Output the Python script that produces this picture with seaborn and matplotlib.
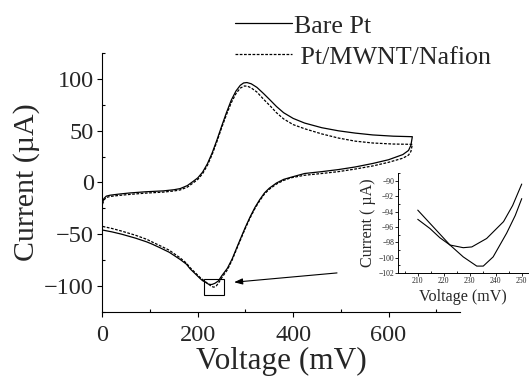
import numpy as np
import pandas as pd
import matplotlib
matplotlib.use("Agg")
import matplotlib.pyplot as plt
from matplotlib.patches import Rectangle
from matplotlib.ticker import MultipleLocator
import seaborn as sns

# Bare Pt, vorwaerts (0 -> 650 mV) und zurueck (650 -> 0 mV)
bare_fwd_v = [0, 3, 8, 16, 35, 58, 90, 128, 150, 163, 178, 190, 200, 210, 220, 230, 240, 250, 260,
              270, 280, 289, 296, 303, 312, 324, 338, 352, 365, 380, 400, 424, 460, 495, 530, 567,
              610, 650]
bare_fwd_i = [-19.8, -15.5, -13.2, -12.3, -11.2, -10.1, -9.0, -8.1, -7.0, -5.9, -3.0, 1.0, 4.5,
              10.0, 18.0, 28.5, 41.0, 54.5, 67.5, 79.5, 88.5, 94.0, 96.3, 96.7, 95.5, 92.0, 86.0,
              79.6, 73.5, 67.5, 62.0, 57.5, 53.0, 50.0, 47.8, 46.0, 44.8, 44.3]
bare_rev_v = [650, 647, 642, 630, 600, 567, 530, 495, 460, 424, 395, 380, 365, 350, 340, 330, 320,
              310, 300, 289, 280, 272, 262, 250, 243, 236, 230, 227, 222, 215, 210, 205, 195, 184,
              176, 163, 140, 120, 104, 93, 69, 40, 20, 0]
bare_rev_i = [44.3, 36.0, 31.0, 27.0, 22.0, 18.4, 15.0, 12.5, 10.5, 8.7, 5.0, 3.0, -0.5, -5.5,
              -10.0, -16.5, -24.0, -33.0, -43.0, -55.0, -65.0, -74.0, -83.0, -90.4, -95.3, -97.5,
              -98.6, -98.7, -98.3, -96.2, -95.0, -93.0, -88.5, -83.6, -79.0, -74.5, -67.5, -63.0,
              -59.6, -57.5, -53.8, -50.0, -47.8, -46.0]

# Pt/MWNT/Nafion
naf_fwd_v = [0, 3, 8, 16, 35, 58, 90, 128, 150, 163, 178, 190, 200, 210, 220, 230, 240, 250, 260,
             270, 280, 289, 298, 305, 312, 324, 338, 353, 365, 380, 400, 424, 460, 495, 530, 567,
             610, 650]
naf_fwd_i = [-21.0, -17.0, -14.5, -13.5, -12.5, -11.5, -10.3, -9.3, -8.2, -7.2, -4.5, -0.5, 3.0,
             8.5, 16.5, 27.0, 39.5, 53.0, 65.5, 77.0, 86.0, 91.3, 93.4, 93.0, 91.5, 87.5, 80.5,
             73.5, 67.5, 61.5, 56.0, 52.0, 47.0, 43.0, 40.0, 38.2, 37.2, 36.9]
naf_rev_v = [650, 647, 642, 630, 600, 567, 530, 495, 460, 424, 395, 380, 365, 350, 340, 330, 320,
             310, 300, 289, 280, 272, 262, 250, 244, 239, 234, 232, 227, 222, 216, 210, 205, 195,
             184, 176, 163, 140, 120, 104, 93, 69, 40, 20, 0]
naf_rev_i = [36.9, 30.0, 26.5, 23.5, 19.5, 16.0, 13.0, 10.5, 8.7, 7.0, 4.5, 2.0, -1.5, -6.5, -11.0,
             -17.5, -25.0, -34.0, -44.0, -56.0, -66.0, -75.0, -84.5, -92.3, -96.8, -99.9, -101.2,
             -101.1, -99.9, -98.3, -96.0, -93.8, -92.0, -87.5, -82.5, -78.0, -73.0, -65.5, -61.0,
             -57.5, -55.0, -51.0, -47.0, -44.5, -42.5]

# Ausschnitt (Inset) 210-250 mV
ins_bare_v = [210, 214.7, 218.5, 222.4, 227.5, 230.8, 236.5, 243, 246.5, 250]
ins_bare_i = [-95.0, -96.2, -97.4, -98.35, -98.7, -98.6, -97.5, -95.3, -93.2, -90.4]
ins_naf_v = [210, 216, 222.4, 227.5, 232.7, 235.2, 239, 244.2, 247.5, 250]
ins_naf_i = [-93.8, -96.0, -98.35, -99.9, -101.1, -101.1, -99.9, -96.8, -94.5, -92.3]

labels = ["Bare Pt", "Pt/MWNT/Nafion"]


def make_df(v1, i1, v2, i2, name):
    v = list(v1) + list(v2)
    i = list(i1) + list(i2)
    return pd.DataFrame({"V": v, "I": i, "elektrode": name, "n": np.arange(len(v))})


df = pd.concat([make_df(bare_fwd_v, bare_fwd_i, bare_rev_v, bare_rev_i, labels[0]),
                make_df(naf_fwd_v, naf_fwd_i, naf_rev_v, naf_rev_i, labels[1])],
               ignore_index=True)
df_ins = pd.concat([make_df(ins_bare_v, ins_bare_i, [], [], labels[0]),
                    make_df(ins_naf_v, ins_naf_i, [], [], labels[1])], ignore_index=True)

sns.set_style("ticks")
plt.rcParams["font.family"] = ["Liberation Serif", "DejaVu Serif"]

fig = plt.figure(figsize=(5.31, 3.79), dpi=100)
ax = fig.add_axes([0.193, 0.1776, 0.6733, 0.6818])

sns.lineplot(data=df, x="V", y="I", style="elektrode", sort=False, estimator=None,
             color="black", linewidth=0.9, dashes={labels[0]: "", labels[1]: (2.2, 1.2)}, ax=ax)

ax.set_xlim(0, 750)
ax.set_ylim(-125, 125)
ax.set_xticks([0, 200, 400, 600])
ax.set_yticks([-100, -50, 0, 50, 100])
ax.xaxis.set_minor_locator(MultipleLocator(100))
ax.yaxis.set_minor_locator(MultipleLocator(25))
ax.tick_params(which="major", direction="out", length=3.6, width=0.8, labelsize=17.5, color="black")
ax.tick_params(axis="x", which="major", pad=6)
ax.tick_params(axis="y", which="major", pad=2.5)
ax.tick_params(which="minor", direction="in", length=2.4, width=0.8, color="black")
for s in ["top", "right"]:
    ax.spines[s].set_visible(False)
for s in ["left", "bottom"]:
    ax.spines[s].set_linewidth(0.8)
    ax.spines[s].set_color("black")
ax.set_xlabel("Voltage (mV)", fontsize=22.5, labelpad=1)
ax.set_ylabel("Current (µA)", fontsize=21.5, labelpad=3)

# Kasten und Pfeil
ax.add_patch(Rectangle((213, -109), 42, 16, fill=False, edgecolor="black", linewidth=0.8))
ax.annotate("", xy=(276, -96.5), xytext=(492, -87.5),
            arrowprops=dict(arrowstyle="-|>,head_length=0.5,head_width=0.18", color="black",
                            linewidth=0.8, shrinkA=0, shrinkB=0))

h, l = ax.get_legend_handles_labels()
ax.legend(h, ["Bare Pt", " Pt/MWNT/Nafion"], loc="upper left", bbox_to_anchor=(0.443, 0.962),
          bbox_transform=fig.transFigure, frameon=False, fontsize=18.7, handlelength=2.2,
          handletextpad=0.08, labelspacing=0.3, borderpad=0, borderaxespad=0)

# Inset
axi = fig.add_axes([0.750, 0.2797, 0.2448, 0.263])
sns.lineplot(data=df_ins, x="V", y="I", units="elektrode", sort=False, estimator=None,
             color="black", linewidth=0.8, ax=axi)
axi.set_xlim(202.5, 252.5)
axi.set_ylim(-102, -89)
axi.set_xticks([210, 220, 230, 240, 250])
axi.set_yticks(np.arange(-102, -89, 2))
axi.xaxis.set_minor_locator(MultipleLocator(5))
axi.yaxis.set_minor_locator(MultipleLocator(1))
axi.tick_params(which="major", direction="out", length=2, width=0.6, labelsize=5.5, pad=1,
                color="black")
axi.tick_params(which="minor", direction="in", length=1.3, width=0.6, color="black")
for s in ["top", "right"]:
    axi.spines[s].set_visible(False)
for s in ["left", "bottom"]:
    axi.spines[s].set_linewidth(0.7)
    axi.spines[s].set_color("black")
axi.set_xlabel("Voltage (mV)", fontsize=11.6, labelpad=3)
axi.set_ylabel("Current ( µA)", fontsize=11.6, labelpad=2)
axi.patch.set_alpha(0)

fig.savefig("out.png", dpi=100)
